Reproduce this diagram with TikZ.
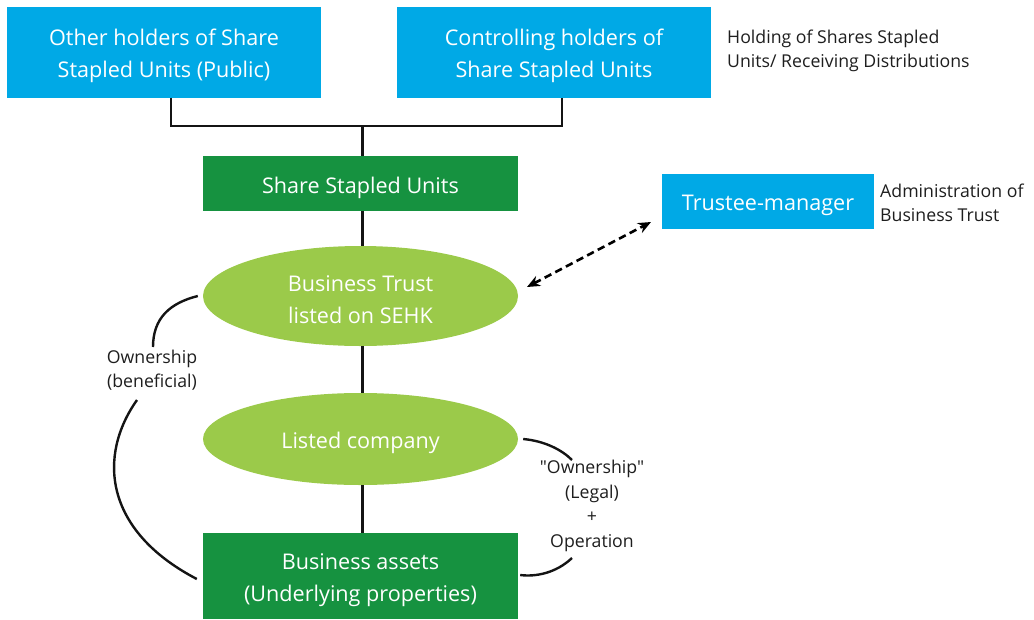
\documentclass[tikz,border=0pt]{standalone}
\usepackage{fontspec}
\setmainfont{Open Sans}
\newfontfamily\plainfont{Open Sans}[Ligatures=TeXOff]
\usetikzlibrary{arrows.meta,shapes.geometric}
\definecolor{cyanbox}{RGB}{0,169,230}
\definecolor{darkgreen}{RGB}{22,146,64}
\definecolor{lightgreen}{RGB}{155,202,74}
\definecolor{txt}{RGB}{30,30,30}
\tikzset{
  boxtext/.style={text=white, align=center, inner sep=0pt, yshift=-4pt, font=\fontsize{21.6}{32}\selectfont},
  bluebox/.style={fill=cyanbox, minimum width=314pt, minimum height=91pt, inner sep=0pt},
  greenbox/.style={fill=darkgreen, minimum width=315pt, inner sep=0pt},
  oval/.style={ellipse, fill=lightgreen, minimum width=315pt, inner sep=0pt},
  note/.style={text=txt, align=left, inner sep=0pt, font=\fontsize{17.7}{23.5}\selectfont},
  lbl/.style={text=txt, align=center, inner sep=0pt, font=\plainfont\fontsize{17.7}{24.5}\selectfont},
  conn/.style={line width=2.4pt, draw=black!92},
}
\begin{document}
\begin{tikzpicture}[x=1pt,y=-1pt]
\useasboundingbox (0,0) rectangle (1034,619);
\node[bluebox, label={[boxtext]center:{Other holders of Share\\Stapled Units (Public)}}] (oth) at (164,52) {};
\node[bluebox, label={[boxtext]center:{Controlling holders of\\Share Stapled Units}}] (ctl) at (554,52) {};
\node[note, anchor=west] (hold) at (727,51) {Holding of Shares Stapled\\Units/ Receiving Distributions};
\node[greenbox, minimum height=55pt, label={[boxtext]center:{Share Stapled Units}}] (ssu) at (360.5,183.5) {};
\node[bluebox, minimum width=212pt, minimum height=55pt, label={[boxtext]center:{Trustee-manager}}] (tm) at (768,201.5) {};
\node[note, anchor=west] (adm) at (880,203) {Administration of\\Business Trust};
\node[oval, minimum height=100pt, label={[boxtext]center:{Business Trust\\listed on SEHK}}] (bt) at (360.5,296) {};
\node[oval, minimum height=92pt, label={[boxtext]center:{Listed company}}] (lc) at (360.5,439) {};
\node[greenbox, minimum height=86pt, label={[boxtext]center:{Business assets\\(Underlying properties)}}] (ba) at (360.5,576) {};
\node[lbl] (own) at (152,370) {Ownership\\(beneficial)};
\node[lbl] (leg) at (592,506) {"Ownership"\\(Legal)\\+\\Operation};
% top connectors
\coordinate (jn) at (362.5,126);
\draw[conn] ([xshift=7pt]oth.south) |- (jn) -| ([xshift=8pt]ctl.south);
\draw[conn] (jn) -- (ssu.north -| jn);
\draw[conn] (ssu.south -| jn) -- (bt.north -| jn);
\draw[conn] (bt.south -| jn) -- (lc.north -| jn);
\draw[conn] (lc.south -| jn) -- (ba.north -| jn);
% dashed arrow
\coordinate (da) at (527,287);
\coordinate (db) at (651,222);
\draw[line width=2.6pt, dash pattern=on 7.5pt off 4.5pt, {Stealth[length=13pt,width=11pt]}-{Stealth[length=13pt,width=11pt]}] (da) -- (db);
% left curve
\draw[conn] ([xshift=-5pt]bt.west) .. controls (170,303) and (153,318) .. (153,347);
\draw[conn] (137,400) .. controls (98,455) and (103,530) .. ([xshift=-6pt,yshift=-3pt]ba.west);
% right curve
\draw[conn] ([xshift=5pt]lc.east) .. controls (545,441) and (562,450) .. (572,460);
\draw[conn] (572,558) .. controls (556,573) and (536,577) .. ([xshift=2pt,yshift=1pt]ba.east);
\end{tikzpicture}
\end{document}
